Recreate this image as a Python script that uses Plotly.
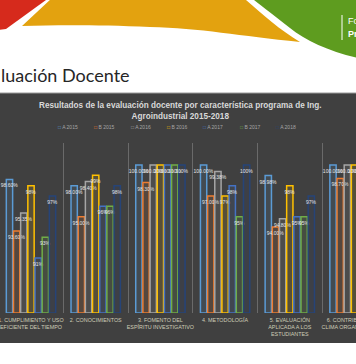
import plotly.graph_objects as go

# ---------------- data ----------------
categories = [
    "1. CUMPLIMIENTO Y USO<br>EFICIENTE DEL TIEMPO",
    "2. CONOCIMIENTOS",
    "3. FOMENTO DEL<br>ESPÍRITU INVESTIGATIVO",
    "4. METODOLOGÍA",
    "5. EVALUACIÓN<br>APLICADA A LOS<br>ESTUDIANTES",
    "6. CONTRIBUCIÓN AL<br>CLIMA ORGANIZACIONAL",
]
series_names = ["A 2015", "B 2015", "A 2016", "B 2016", "A 2017", "B 2017", "A 2018"]
a2015 = [98.60, 98.00, 100.00, 100.00, 98.98, 100.00]
b2015 = [93.60, 95.00, 98.30, 97.00, 94.00, 98.70]
a2016 = [95.35, 98.40, 100.00, 99.38, 94.80, 100.00]
b2016 = [98, 99, 100, 97, 98, 100]
a2017 = [91, 96, 100, 98, 95, 100]
b2017 = [93, 96, 100, 95, 95, 100]
a2018 = [97, 98, 100, 100, 97, 100]
series_values = [a2015, b2015, a2016, b2016, a2017, b2017, a2018]
label_formats = ["%{customdata:.2f}%", "%{customdata:.2f}%", "%{customdata:.2f}%",
                 "%{customdata:.0f}%", "%{customdata:.0f}%", "%{customdata:.0f}%", "%{customdata:.0f}%"]
colors = ["#5B9BD5", "#ED7D31", "#A5A5A5", "#FFC000", "#4472C4", "#70AD47", "#264478"]

chart_title = "Resultados de la evaluación docente por característica programa de Ing.<br>Agroindustrial 2015-2018"
slide_title = "luación Docente"

Y_MIN, Y_MAX = 85.67, 102.13

# ---------------- geometry helpers ----------------
W, H = 356, 364
M_T, M_B = 143, 51
PH = H - M_T - M_B


def pp(x, y):
    return x / W, (H - M_B - y) / PH


def path(segments):
    parts = []
    for cmd, pts in segments:
        if cmd == "C":
            parts.append("C " + " ".join("%.4f,%.4f" % pp(x, y) for x, y in pts))
        else:
            for x, y in pts:
                parts.append("%s %.4f,%.4f" % ((cmd,) + pp(x, y)))
                if cmd == "M":
                    cmd = "L"
    return " ".join(parts) + " Z"


def rgba(hexc, a):
    h = hexc.lstrip("#")
    return "rgba(%d,%d,%d,%.2f)" % (int(h[0:2], 16), int(h[2:4], 16), int(h[4:6], 16), a)


fig = go.Figure()
xs = list(range(len(categories)))
for name, vals, col, fmt in zip(series_names, series_values, colors, label_formats):
    fig.add_trace(go.Bar(
        x=xs, y=[v - Y_MIN for v in vals], base=Y_MIN, name=name,
        customdata=vals, texttemplate=fmt,
        textposition="inside", insidetextanchor="end", textangle=0,
        constraintext="none",
        insidetextfont=dict(size=5, color="#e6e6e6", family="Liberation Sans"),
        marker=dict(color=rgba(col, 0.12), line=dict(color=col, width=1.5)),
    ))

shapes = []
# dark chart box
x0, y0 = pp(-2, 93)
x1, y1 = pp(358, 343)
shapes.append(dict(type="rect", xref="paper", yref="paper", x0=x0, y0=y1, x1=x1, y1=y0,
                   fillcolor="#404040", line=dict(width=0), layer="below"))
shapes.append(dict(type="line", xref="paper", yref="paper", x0=x0, x1=x1, y0=y0, y1=y0,
                   line=dict(color="#9a9a9a", width=1), layer="below"))
# decorative slide header shapes
shapes.append(dict(type="path", xref="paper", yref="paper", layer="below",
                   path=path([("M", [(-2, -2)]), ("L", [(46, -2), (46, 0), (6, 29), (-2, 30)])]),
                   fillcolor="#D62A1C", line=dict(width=0)))
shapes.append(dict(type="path", xref="paper", yref="paper", layer="below",
                   path=path([("M", [(52, -2)]), ("L", [(246, -2), (246, 0)]),
                              ("C", [(262, 14), (280, 30), (300, 42)]),
                              ("C", [(240, 36), (200, 28), (150, 27)]),
                              ("C", [(100, 25), (60, 25), (22, 26)])]),
                   fillcolor="#E3A20F", line=dict(width=0)))
shapes.append(dict(type="path", xref="paper", yref="paper", layer="below",
                   path=path([("M", [(254, -2)]), ("L", [(358, -2), (358, 58)]),
                              ("C", [(330, 52), (305, 40), (290, 28)]),
                              ("C", [(275, 16), (264, 8), (254, 0)])]),
                   fillcolor="#5E9C1F", line=dict(width=0)))
lx, ly0 = pp(342, 15)
_, ly1 = pp(342, 40)
shapes.append(dict(type="line", xref="paper", yref="paper", x0=lx, x1=lx, y0=ly0, y1=ly1,
                   line=dict(color="white", width=1)))

annotations = []
ax, ay = pp(180, 111)
annotations.append(dict(text="<b>" + chart_title + "</b>", x=ax, y=ay, xref="paper", yref="paper",
                        xanchor="center", yanchor="middle", showarrow=False,
                        font=dict(size=8.2, color="#d9d9d9", family="Liberation Sans")))
tx, ty = pp(-1, 75)
annotations.append(dict(text=slide_title, x=tx, y=ty, xref="paper", yref="paper",
                        xanchor="left", yanchor="middle", showarrow=False,
                        font=dict(size=18, color="#262626", family="Lato")))
fx, fy = pp(346, 21)
annotations.append(dict(text="Fo", x=fx, y=fy, xref="paper", yref="paper", xanchor="left",
                        yanchor="middle", showarrow=False,
                        font=dict(size=9, color="white", family="Liberation Sans")))
fx, fy = pp(346, 34)
annotations.append(dict(text="<b>Pr</b>", x=fx, y=fy, xref="paper", yref="paper", xanchor="left",
                        yanchor="middle", showarrow=False,
                        font=dict(size=9, color="white", family="Liberation Sans")))
# legend row
for i, (name, col) in enumerate(zip(series_names, colors)):
    lx, ly = pp(56 + i * 36.3, 127)
    annotations.append(dict(text=f"<span style='color:{col}'>□</span> {name}", x=lx, y=ly,
                            xref="paper", yref="paper", xanchor="left", yanchor="middle",
                            showarrow=False,
                            font=dict(size=5, color="#a6a6a6", family="Liberation Sans")))

fig.update_layout(
    width=W, height=H, autosize=False,
    margin=dict(l=0, r=0, t=M_T, b=M_B, pad=0, autoexpand=False),
    paper_bgcolor="white", plot_bgcolor="rgba(0,0,0,0)",
    barmode="group", bargap=0.224, bargroupgap=0.12,
    showlegend=False,
    shapes=shapes, annotations=annotations,
    xaxis=dict(range=[-0.479, 5.023], tickmode="array", tickvals=xs, ticktext=categories,
               showgrid=False, zeroline=False, ticks="", ticklabelstandoff=3,
               ticklabeloverflow="allow", tickangle=0, automargin=False,
               tickfont=dict(size=5.4, color="#cfcdb8", family="Liberation Sans"),
               minor=dict(tickmode="array", tickvals=[i + 0.5 for i in range(-1, len(categories))],
                          showgrid=True, gridcolor="#6a6a6a", gridwidth=0.8, ticks="")),
    yaxis=dict(range=[Y_MIN, Y_MAX], showgrid=False, zeroline=False, showticklabels=False,
               automargin=False),
)

fig.write_html("out.html", config={"displayModeBar": False, "responsive": False},
               post_script="document.body.style.margin='0';document.body.style.overflow='hidden';")
